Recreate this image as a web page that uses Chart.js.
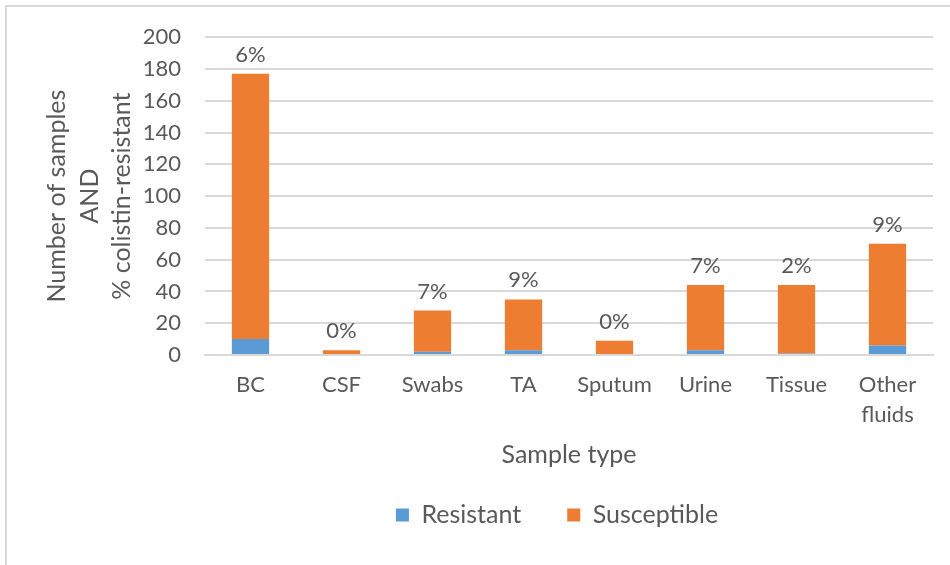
<!DOCTYPE html>
<html>
<head>
<meta charset="utf-8">
<script src="https://cdn.jsdelivr.net/npm/chart.js@4.4.1/dist/chart.umd.min.js"></script>
<style>
  html, body { margin: 0; padding: 0; background: #ffffff; }
  #wrap { position: relative; width: 950px; height: 565px; overflow: hidden; }
  #frame {
    position: absolute; left: 5px; top: 5px; width: 1000px; height: 600px;
    border-left: 2px solid #d9d9d9; border-top: 2px solid #d9d9d9;
  }
  #chart { position: absolute; left: 0; top: 0; }
</style>
</head>
<body>
<div id="wrap">
  <div id="frame"></div>
  <canvas id="chart" width="950" height="565"></canvas>
</div>
<script>
// Sample types on the x axis
const categories = ['BC', 'CSF', 'Swabs', 'TA', 'Sputum', 'Urine', 'Tissue', ['Other', 'fluids']];
// Isolate counts per sample type
const resistant   = [10, 0, 2, 3, 0, 3, 1, 6];
const susceptible = [167, 3, 26, 32, 9, 41, 43, 64];
// Y axis range
const yMin = 0, yMax = 200, yStep = 20;

const TEXT = '#595959';
const GRID = '#d9d9d9';
const FONT = 'Lato, "Open Sans", sans-serif';

// Percentage of resistant isolates, written above each stacked column
const pctLabels = {
  id: 'pctLabels',
  afterDatasetsDraw(chart) {
    const ctx = chart.ctx;
    const top = chart.getDatasetMeta(1);
    ctx.save();
    ctx.font = '22px ' + FONT;
    ctx.fillStyle = TEXT;
    ctx.textAlign = 'center';
    ctx.textBaseline = 'middle';
    top.data.forEach((bar, i) => {
      const total = resistant[i] + susceptible[i];
      const pct = total ? Math.round(100 * resistant[i] / total) : 0;
      ctx.fillText(pct + '%', bar.x, bar.y - 19);
    });
    ctx.restore();
  }
};

// Nudge the legend a little left of the plot-area centre
const legendShift = {
  id: 'legendShift',
  afterLayout(chart) {
    const lg = chart.legend;
    if (!lg || lg._shifted) return;
    const draw = lg.draw;
    lg.draw = function (area) {
      const c = this.ctx;
      c.save();
      c.translate(-12, 0);
      draw.call(this, area);
      c.restore();
    };
    lg._shifted = true;
  }
};

new Chart(document.getElementById('chart'), {
  type: 'bar',
  data: {
    labels: categories,
    datasets: [
      { label: 'Resistant', data: resistant, backgroundColor: '#5B9BD5',
        categoryPercentage: 1, barPercentage: 0.41 },
      { label: 'Susceptible', data: susceptible, backgroundColor: '#ED7D31',
        categoryPercentage: 1, barPercentage: 0.41 }
    ]
  },
  options: {
    responsive: false,
    animation: false,
    events: [],
    layout: { padding: { left: 0, right: 17, top: 35, bottom: 27.5 } },
    plugins: {
      tooltip: { enabled: false },
      legend: {
        position: 'bottom',
        fullSize: false,
        labels: {
          color: TEXT,
          font: { family: FONT, size: 25 },
          boxWidth: 13, boxHeight: 13,
          padding: 46
        }
      }
    },
    scales: {
      x: {
        stacked: true,
        grid: { display: false, drawTicks: false },
        border: { display: true, color: GRID, width: 2 },
        ticks: {
          color: TEXT, font: { family: FONT, size: 22, lineHeight: 1.364 },
          padding: 15, maxRotation: 0, autoSkip: false
        },
        title: {
          display: true, text: 'Sample type', color: TEXT,
          font: { family: FONT, size: 25, lineHeight: 1.2 },
          padding: { top: 0, bottom: -13.5 }
        },
        afterFit(scale) { scale.height = 101.5; }
      },
      y: {
        stacked: true,
        min: yMin, max: yMax,
        grid: { color: GRID, lineWidth: 2, drawTicks: false },
        border: { display: false },
        ticks: {
          stepSize: yStep, color: TEXT,
          font: { family: FONT, size: 22 }, padding: 24
        },
        title: {
          display: true,
          text: ['Number of samples', 'AND', '% colistin-resistant'],
          color: TEXT,
          font: { family: FONT, size: 25, lineHeight: 1.3 },
          padding: { top: 40.75, bottom: 0 }
        },
        afterFit(scale) { scale.width = 205; }
      }
    }
  },
  plugins: [pctLabels, legendShift]
});
</script>
</body>
</html>
